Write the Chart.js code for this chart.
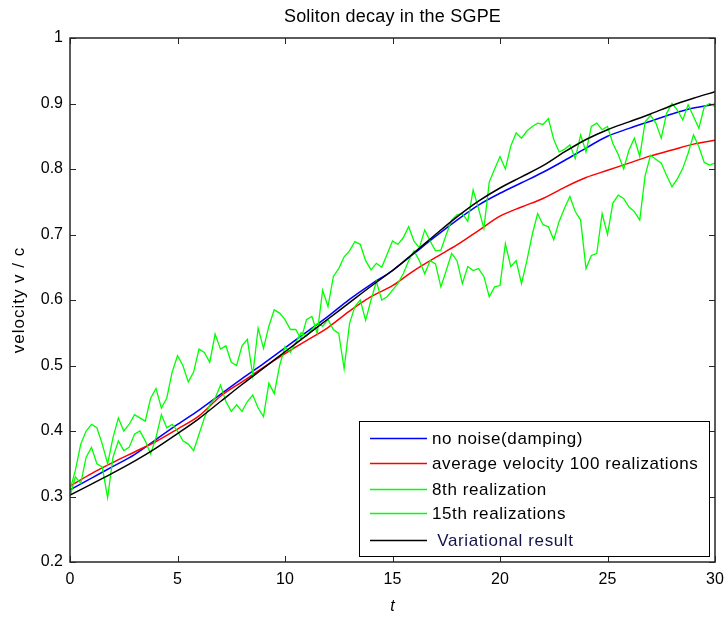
<!DOCTYPE html>
<html>
<head>
<meta charset="utf-8">
<script src="https://cdn.jsdelivr.net/npm/chart.js@4.4.1/dist/chart.umd.min.js"></script>
<style>
html,body{margin:0;padding:0;background:#fff;}
canvas{display:block;}
</style>
</head>
<body>
<canvas id="c" width="727" height="619"></canvas>
<script>
// ---- data ----
const tSmooth = [0,1,2,3,4,5,6,7,8,9,10,11,12,13,14,15,16,17,18,19,20,21,22,23,24,25,26,27,28,29,30];
const noNoise = [0.310,0.328,0.346,0.364,0.387,0.410,0.432,0.456,0.480,0.503,0.527,0.551,0.575,0.601,0.624,0.645,0.671,0.697,0.722,0.745,0.763,0.779,0.795,0.813,0.832,0.850,0.862,0.873,0.884,0.893,0.899];
const avgVelocity = [0.316,0.335,0.352,0.368,0.384,0.403,0.423,0.453,0.475,0.497,0.518,0.538,0.558,0.583,0.605,0.622,0.645,0.665,0.684,0.706,0.728,0.742,0.755,0.772,0.787,0.798,0.809,0.820,0.829,0.838,0.844];
const variational = [0.302,0.319,0.336,0.354,0.374,0.396,0.419,0.445,0.471,0.496,0.521,0.546,0.571,0.596,0.621,0.645,0.672,0.700,0.727,0.751,0.771,0.788,0.805,0.826,0.845,0.860,0.872,0.884,0.897,0.908,0.918];

const tStep = 0.25; // sampling interval of the realizations
const real8 = [0.31,0.34,0.38,0.40,0.41,0.405,0.38,0.35,0.39,0.42,0.40,0.41,
0.425,0.42,0.415,0.45,0.465,0.435,0.45,0.49,0.515,0.50,0.475,0.49,
0.525,0.52,0.505,0.548,0.525,0.53,0.505,0.50,0.53,0.54,0.485,0.557,
0.526,0.56,0.585,0.58,0.57,0.555,0.555,0.54,0.57,0.575,0.549,0.615,
0.59,0.636,0.648,0.666,0.675,0.689,0.685,0.66,0.646,0.656,0.65,0.67,
0.69,0.685,0.695,0.712,0.69,0.68,0.707,0.69,0.675,0.676,0.70,0.722,
0.73,0.732,0.72,0.768,0.74,0.709,0.78,0.80,0.819,0.80,0.835,0.855,
0.847,0.858,0.865,0.870,0.868,0.877,0.845,0.826,0.83,0.837,0.816,0.852,
0.826,0.865,0.870,0.86,0.865,0.839,0.822,0.80,0.829,0.847,0.819,0.872,
0.882,0.87,0.847,0.885,0.90,0.89,0.875,0.898,0.88,0.862,0.895,0.90,0.895];
const real15 = [0.30,0.33,0.32,0.36,0.375,0.35,0.345,0.298,0.36,0.385,0.37,0.375,
0.395,0.40,0.385,0.365,0.39,0.425,0.405,0.41,0.40,0.385,0.38,0.37,
0.395,0.42,0.44,0.45,0.47,0.445,0.43,0.44,0.43,0.445,0.455,0.435,
0.422,0.473,0.457,0.50,0.529,0.52,0.535,0.55,0.545,0.555,0.564,0.56,
0.57,0.555,0.549,0.495,0.564,0.59,0.60,0.569,0.60,0.628,0.60,0.605,
0.615,0.625,0.64,0.66,0.675,0.66,0.64,0.66,0.655,0.62,0.645,0.671,
0.66,0.625,0.651,0.645,0.648,0.636,0.605,0.62,0.622,0.686,0.651,0.66,
0.625,0.66,0.70,0.732,0.715,0.712,0.692,0.72,0.74,0.758,0.735,0.722,
0.648,0.668,0.671,0.732,0.70,0.748,0.76,0.755,0.742,0.735,0.722,0.79,
0.821,0.815,0.809,0.79,0.773,0.785,0.801,0.824,0.852,0.834,0.81,0.806,0.809];

const xTicks = [0,5,10,15,20,25,30];
const yTicks = [0.2,0.3,0.4,0.5,0.6,0.7,0.8,0.9,1];
const labels = ['no noise(damping)','average velocity 100 realizations','8th realization','15th realizations',' Variational result'];

function pts(ts, vs){ return vs.map((v,i)=>({x:ts[i], y:v})); }
const tReal = real8.map((_,i)=>i*tStep);

const FONT = '"Liberation Sans", Arial, sans-serif';

const framePlugin = {
  id:'frame',
  afterDatasetsDraw(chart){
    const {ctx, chartArea:a, scales:{x,y}} = chart;
    ctx.save();
    ctx.strokeStyle = '#262626';
    ctx.lineWidth = 1.5;
    ctx.strokeRect(a.left, a.top, a.right-a.left, a.bottom-a.top);
    ctx.lineWidth = 1;
    const L = 6;
    ctx.beginPath();
    xTicks.forEach(v=>{
      const px = Math.round(x.getPixelForValue(v))+0.5;
      ctx.moveTo(px,a.bottom); ctx.lineTo(px,a.bottom-L);
      ctx.moveTo(px,a.top); ctx.lineTo(px,a.top+L);
    });
    yTicks.forEach(v=>{
      const py = Math.round(y.getPixelForValue(v))+0.5;
      ctx.moveTo(a.left,py); ctx.lineTo(a.left+L,py);
      ctx.moveTo(a.right,py); ctx.lineTo(a.right-L,py);
    });
    ctx.stroke();

    // legend
    const bx=359.5, by=421.5, bw=350, bh=135;
    ctx.fillStyle='#fff';
    ctx.fillRect(bx,by,bw,bh);
    ctx.strokeStyle='#000';
    ctx.lineWidth=1;
    ctx.strokeRect(bx,by,bw,bh);
    const rows=[438,463,489,513,540];
    ctx.font = '17px '+FONT;
    ctx.letterSpacing = '0.6px';
    ctx.textBaseline='middle';
    ctx.textAlign='left';
    chart.data.datasets.forEach((ds,i)=>{
      const ry = rows[i];
      ctx.strokeStyle = ds.borderColor;
      ctx.lineWidth = 1.5;
      ctx.beginPath(); ctx.moveTo(370,ry+0.5); ctx.lineTo(427,ry+0.5); ctx.stroke();
      ctx.fillStyle = i===4 ? '#14144a' : '#000';
      ctx.fillText(ds.label, 432, ry+1);
    });

    // texts
    ctx.fillStyle='#000';
    ctx.textAlign='center';
    ctx.font = '18px '+FONT;
    ctx.letterSpacing = '0.2px';
    ctx.fillText('Soliton decay in the SGPE', (a.left+a.right)/2, 17);
    ctx.font = 'italic 16px '+FONT;
    ctx.letterSpacing = '0px';
    ctx.fillText('t', (a.left+a.right)/2, 607);
    ctx.save();
    ctx.translate(19,(a.top+a.bottom)/2);
    ctx.rotate(-Math.PI/2);
    ctx.font = '17px '+FONT;
    ctx.letterSpacing = '1px';
    ctx.fillText('velocity v / c',0,0);
    ctx.restore();
    ctx.restore();
  }
};

const mk = (label, data, color, order, w) => ({label, data, borderColor:color, backgroundColor:color, borderWidth:w, pointRadius:0, fill:false, order, tension:0});

new Chart(document.getElementById('c'), {
  type:'line',
  data:{
    datasets:[
      Object.assign(mk(labels[0], pts(tSmooth,noNoise), '#0000ff', 4, 1.5), {cubicInterpolationMode:'monotone'}),
      Object.assign(mk(labels[1], pts(tSmooth,avgVelocity), '#ff0000', 3, 1.5), {cubicInterpolationMode:'monotone'}),
      mk(labels[2], pts(tReal,real8), '#00ff00', 2, 1.3),
      mk(labels[3], pts(tReal,real15), '#00ff00', 1, 1.3),
      Object.assign(mk(labels[4], pts(tSmooth,variational), '#000000', 0, 1.5), {cubicInterpolationMode:'monotone'})
    ]
  },
  options:{
    responsive:false, animation:false, devicePixelRatio:1,
    layout:{padding:{top:38,right:12,left:0,bottom:0}},
    plugins:{legend:{display:false}, tooltip:{enabled:false}, title:{display:false}},
    scales:{
      x:{type:'linear', min:0, max:30,
        afterBuildTicks(s){ s.ticks = xTicks.map(v=>({value:v})); },
        afterFit(s){ s.height = 57; s.paddingLeft = 0; s.paddingRight = 0; },
        grid:{display:false, drawTicks:false}, border:{display:false},
        ticks:{color:'#000', padding:8, font:{family:FONT, size:16}, maxRotation:0, autoSkip:false}
      },
      y:{type:'linear', min:0.2, max:1,
        afterBuildTicks(s){ s.ticks = yTicks.map(v=>({value:v})); },
        afterFit(s){ s.width = 70; s.paddingTop = 0; s.paddingBottom = 0; },
        grid:{display:false, drawTicks:false}, border:{display:false},
        ticks:{color:'#000', padding:7, font:{family:FONT, size:16}, autoSkip:false,
          callback:(v)=>String(Math.round(v*10)/10)}
      }
    }
  },
  plugins:[framePlugin]
});
</script>
</body>
</html>
